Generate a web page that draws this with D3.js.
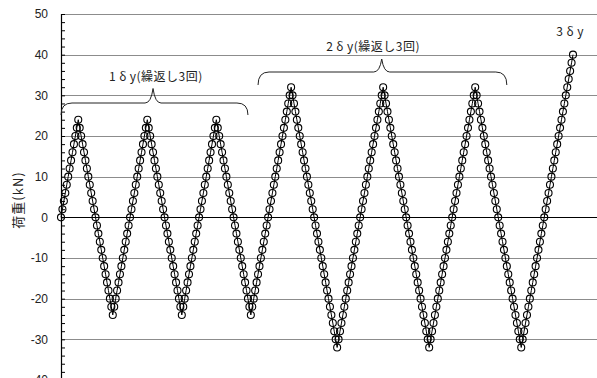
<!DOCTYPE html>
<html>
<head>
<meta charset="utf-8">
<script src="https://cdn.jsdelivr.net/npm/d3@7"></script>
<style>
  html, body { margin: 0; padding: 0; background: #fff; }
  svg { display: block; }
</style>
</head>
<body>
<svg id="chart" width="597" height="378"></svg>
<script>
// Load history, one entry per recorded step (kN)
const loadPhase1 = [ // 1δy, three cycles
  0, 2, 4, 6, 8, 10, 12, 14, 16, 18, 20, 22, 24,
  22, 20, 18, 16, 14, 12, 10, 8, 6, 4, 2, 0, -2, -4, -6, -8, -10, -12, -14, -16, -18, -20, -22, -24,
  -22, -20, -18, -16, -14, -12, -10, -8, -6, -4, -2, 0, 2, 4, 6, 8, 10, 12, 14, 16, 18, 20, 22, 24,
  22, 20, 18, 16, 14, 12, 10, 8, 6, 4, 2, 0, -2, -4, -6, -8, -10, -12, -14, -16, -18, -20, -22, -24,
  -22, -20, -18, -16, -14, -12, -10, -8, -6, -4, -2, 0, 2, 4, 6, 8, 10, 12, 14, 16, 18, 20, 22, 24,
  22, 20, 18, 16, 14, 12, 10, 8, 6, 4, 2, 0, -2, -4, -6, -8, -10, -12, -14, -16, -18, -20, -22, -24
];
const loadPhase2 = [ // 2δy, three cycles
  -22, -20, -18, -16, -14, -12, -10, -8, -6, -4, -2, 0, 2, 4, 6, 8, 10, 12, 14, 16, 18, 20, 22, 24, 26, 28, 30, 32,
  30, 28, 26, 24, 22, 20, 18, 16, 14, 12, 10, 8, 6, 4, 2, 0, -2, -4, -6, -8, -10, -12, -14, -16, -18, -20, -22, -24, -26, -28, -30, -32,
  -30, -28, -26, -24, -22, -20, -18, -16, -14, -12, -10, -8, -6, -4, -2, 0, 2, 4, 6, 8, 10, 12, 14, 16, 18, 20, 22, 24, 26, 28, 30, 32,
  30, 28, 26, 24, 22, 20, 18, 16, 14, 12, 10, 8, 6, 4, 2, 0, -2, -4, -6, -8, -10, -12, -14, -16, -18, -20, -22, -24, -26, -28, -30, -32,
  -30, -28, -26, -24, -22, -20, -18, -16, -14, -12, -10, -8, -6, -4, -2, 0, 2, 4, 6, 8, 10, 12, 14, 16, 18, 20, 22, 24, 26, 28, 30, 32,
  30, 28, 26, 24, 22, 20, 18, 16, 14, 12, 10, 8, 6, 4, 2, 0, -2, -4, -6, -8, -10, -12, -14, -16, -18, -20, -22, -24, -26, -28, -30, -32
];
const loadPhase3 = [ // 3δy, loading
  -30, -28, -26, -24, -22, -20, -18, -16, -14, -12, -10, -8, -6, -4, -2, 0, 2, 4, 6, 8, 10, 12, 14, 16, 18, 20, 22, 24, 26, 28, 30, 32, 34, 36, 38, 40
];

const yTicks = [-40, -30, -20, -10, 0, 10, 20, 30, 40, 50];
const yMinorTicks = d3.range(-40, 51, 2);
const yTitle = "荷重(kN)";
const phaseLabels = ["1δy(繰返し3回)", "2δy(繰返し3回)", "3δy"];
// Step ranges covered by each bracket (start step, end step, centre step)
const phaseSpans = [[0, 130, 64], [137, 310, 223]];
const phaseLabelSteps = [66, 217, 354];
const phaseLabelLoads = [33.6, 40.8, 44.6];

const load = loadPhase1.concat(loadPhase2, loadPhase3);
const steps = load.map((v, i) => ({ step: i, load: v }));

const svg = d3.select("#chart");
const W = 597;
const plotLeft = 61, plotTop = 14;

const x = d3.scaleLinear().domain([0, load.length - 1]).range([plotLeft, 573]);
const y = d3.scaleLinear().domain([-40, 50]).range([380, plotTop]);

const font = "'Noto Sans CJK JP', 'Liberation Sans', sans-serif";

// Horizontal grid
svg.append("g")
  .selectAll("line")
  .data(yTicks.filter(t => t !== 0))
  .join("line")
  .attr("x1", plotLeft).attr("x2", W)
  .attr("y1", d => Math.round(y(d)) + 0.5).attr("y2", d => Math.round(y(d)) + 0.5)
  .attr("stroke", "#8c8c8c").attr("stroke-width", 1);

// Zero line
svg.append("line")
  .attr("x1", plotLeft).attr("x2", W)
  .attr("y1", Math.round(y(0)) + 0.5).attr("y2", Math.round(y(0)) + 0.5)
  .attr("stroke", "#000").attr("stroke-width", 1);

// Y axis with inward ticks
const yAxis = d3.axisRight(y).tickValues(yMinorTicks).tickSize(4).tickFormat("");
const gAxis = svg.append("g").attr("transform", `translate(${plotLeft},0)`).call(yAxis);
gAxis.select(".domain").remove();
gAxis.selectAll(".tick line").attr("stroke", "#000");
svg.append("line")
  .attr("x1", plotLeft + 0.5).attr("x2", plotLeft + 0.5)
  .attr("y1", y(50)).attr("y2", 378)
  .attr("stroke", "#000").attr("stroke-width", 1.2);

// Tick labels
svg.append("g")
  .selectAll("text")
  .data(yTicks)
  .join("text")
  .attr("x", 48)
  .attr("y", d => y(d))
  .attr("dy", "0.36em")
  .attr("text-anchor", "end")
  .attr("font-family", "'Liberation Sans', Arial, sans-serif")
  .attr("font-size", 12)
  .attr("fill", "#222")
  .text(d => d);

// Axis title
svg.append("text")
  .attr("transform", `translate(23,${(y(50) + y(-40)) / 2 + 3}) rotate(-90)`)
  .attr("text-anchor", "middle")
  .attr("font-family", font)
  .attr("font-size", 13)
  .attr("letter-spacing", 1)
  .attr("fill", "#222")
  .text(yTitle);

// Load path and markers
svg.append("path")
  .datum(steps)
  .attr("fill", "none")
  .attr("stroke", "#000")
  .attr("stroke-width", 1)
  .attr("d", d3.line().x(d => x(d.step)).y(d => y(d.load)));

svg.append("g")
  .selectAll("circle")
  .data(steps)
  .join("circle")
  .attr("cx", d => x(d.step))
  .attr("cy", d => y(d.load))
  .attr("r", 3.5)
  .attr("fill", "none")
  .attr("stroke", "#000")
  .attr("stroke-width", 1.1);

// Curly brackets over the repeated cycles
function bracePath(x1, x2, xm, yl, drop, rise) {
  const r = 11;
  return [
    `M${x1},${yl + drop}`,
    `Q${x1},${yl} ${x1 + r},${yl}`,
    `L${xm - 8},${yl}`,
    `Q${xm - 2},${yl} ${xm},${yl - rise}`,
    `Q${xm + 2},${yl} ${xm + 8},${yl}`,
    `L${x2 - r},${yl}`,
    `Q${x2},${yl} ${x2},${yl + drop}`
  ].join(" ");
}
const braceRows = [[103, 12, 14.5], [72, 13, 13]];
svg.append("g")
  .selectAll("path")
  .data(phaseSpans)
  .join("path")
  .attr("d", (s, i) => bracePath(x(s[0]), x(s[1]), x(s[2]), braceRows[i][0], braceRows[i][1], braceRows[i][2]))
  .attr("fill", "none")
  .attr("stroke", "#222")
  .attr("stroke-width", 1);

// Phase labels; the Greek delta gets a little room on each side
const labels = svg.append("g")
  .selectAll("text")
  .data(phaseLabels)
  .join("text")
  .attr("x", (d, i) => x(phaseLabelSteps[i]))
  .attr("y", (d, i) => y(phaseLabelLoads[i]))
  .attr("text-anchor", "middle")
  .attr("font-family", font)
  .attr("font-size", 12)
  .attr("letter-spacing", 0.5)
  .attr("fill", "#222");
labels.each(function (d) {
  const t = d3.select(this);
  let afterDelta = false;
  d.split(/(δ)/).forEach(part => {
    if (!part) return;
    const span = t.append("tspan").text(part);
    if (part === "δ") { span.attr("dx", 3); afterDelta = true; }
    else if (afterDelta) { span.attr("dx", 3); afterDelta = false; }
  });
});
</script>
</body>
</html>
